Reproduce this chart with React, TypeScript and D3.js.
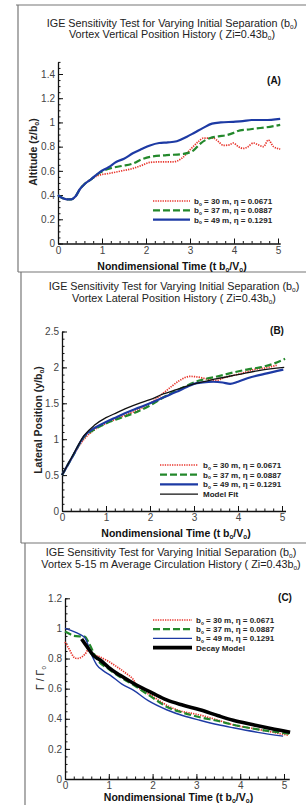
import React, { useEffect, useRef } from "react";
import * as d3 from "d3";

type Pt = [number, number];

// Panel A: vortex altitude z/b0 vs nondimensional time
const altitude30: Pt[] = [[0, 0.40], [0.1, 0.375], [0.2, 0.365], [0.3, 0.365], [0.4, 0.39], [0.5, 0.45], [0.6, 0.49], [0.75, 0.53], [0.9, 0.56], [1.18, 0.58], [1.45, 0.6], [1.7, 0.62], [1.9, 0.645], [2.09, 0.67], [2.4, 0.675], [2.62, 0.675], [2.8, 0.7], [3.03, 0.785], [3.2, 0.845], [3.3, 0.87], [3.53, 0.87], [3.65, 0.84], [3.76, 0.81], [3.9, 0.815], [3.98, 0.83], [4.1, 0.8], [4.21, 0.785], [4.32, 0.8], [4.44, 0.83], [4.55, 0.815], [4.67, 0.8], [4.78, 0.855], [4.9, 0.8], [5.05, 0.78]];
const altitude37: Pt[] = [[0, 0.40], [0.1, 0.375], [0.2, 0.365], [0.3, 0.365], [0.4, 0.39], [0.5, 0.45], [0.6, 0.49], [0.75, 0.53], [0.95, 0.585], [1.18, 0.62], [1.45, 0.64], [1.7, 0.66], [1.9, 0.695], [2.09, 0.716], [2.47, 0.73], [2.85, 0.74], [3.08, 0.77], [3.25, 0.83], [3.45, 0.87], [3.65, 0.885], [3.83, 0.895], [4.0, 0.915], [4.14, 0.935], [4.29, 0.94], [4.5, 0.95], [4.74, 0.96], [5.05, 0.98]];
const altitude49: Pt[] = [[0, 0.40], [0.1, 0.375], [0.2, 0.365], [0.3, 0.365], [0.4, 0.39], [0.5, 0.45], [0.6, 0.49], [0.75, 0.53], [0.95, 0.59], [1.15, 0.63], [1.33, 0.675], [1.5, 0.7], [1.7, 0.745], [1.9, 0.78], [2.09, 0.81], [2.3, 0.83], [2.5, 0.835], [2.7, 0.845], [2.92, 0.88], [3.1, 0.915], [3.3, 0.955], [3.5, 0.99], [3.7, 1.0], [3.98, 1.005], [4.2, 1.01], [4.4, 1.02], [4.7, 1.02], [5.05, 1.03]];

// Panel B: lateral position y/b0
const lateral30: Pt[] = [[0, 0.5], [0.25, 0.77], [0.5, 1.0], [0.71, 1.12], [1, 1.22], [1.3, 1.3], [1.62, 1.38], [2, 1.5], [2.3, 1.64], [2.5, 1.74], [2.68, 1.82], [2.91, 1.875], [3.14, 1.86], [3.35, 1.83], [3.52, 1.82], [3.7, 1.86], [3.9, 1.89], [4.1, 1.92], [4.35, 1.97], [4.6, 1.99], [4.88, 2.03]];
const lateral37: Pt[] = [[0, 0.5], [0.25, 0.77], [0.5, 1.03], [0.75, 1.14], [1, 1.22], [1.3, 1.29], [1.62, 1.36], [2, 1.47], [2.3, 1.58], [2.68, 1.7], [3.14, 1.82], [3.5, 1.87], [3.9, 1.93], [4.2, 1.97], [4.5, 2.0], [4.8, 2.05], [5.07, 2.12]];
const lateral49: Pt[] = [[0, 0.5], [0.25, 0.77], [0.5, 1.04], [0.75, 1.16], [1, 1.24], [1.25, 1.31], [1.5, 1.38], [1.75, 1.44], [2, 1.5], [2.3, 1.58], [2.6, 1.66], [2.85, 1.73], [3, 1.77], [3.2, 1.79], [3.44, 1.8], [3.65, 1.79], [3.82, 1.77], [4, 1.8], [4.27, 1.86], [4.6, 1.91], [5.03, 1.97]];
const lateralFit: Pt[] = [[0, 0.5], [0.25, 0.78], [0.5, 1.05], [0.75, 1.2], [1, 1.3], [1.25, 1.37], [1.5, 1.44], [1.75, 1.5], [2, 1.55], [2.3, 1.63], [2.6, 1.69], [3, 1.77], [3.5, 1.84], [4, 1.9], [4.5, 1.96], [5.05, 2.0]];

// Panel C: 5-15 m average circulation
const circ30: Pt[] = [[0, 0.91], [0.1, 0.86], [0.2, 0.81], [0.27, 0.8], [0.38, 0.81], [0.46, 0.83], [0.53, 0.857], [0.65, 0.83], [0.8, 0.81], [1.0, 0.78], [1.18, 0.746], [1.4, 0.7], [1.56, 0.66], [1.63, 0.625], [2, 0.55], [2.32, 0.49], [2.55, 0.46], [3.08, 0.425], [3.5, 0.39], [3.84, 0.36], [4.4, 0.33], [5.1, 0.29]];
const circ37: Pt[] = [[0, 0.98], [0.1, 0.965], [0.2, 0.95], [0.45, 0.945], [0.55, 0.9], [0.72, 0.8], [1.0, 0.73], [1.3, 0.67], [1.56, 0.625], [2, 0.54], [2.32, 0.48], [2.7, 0.44], [3.08, 0.41], [3.5, 0.385], [3.84, 0.36], [4.4, 0.33], [5.14, 0.3]];
const circ49: Pt[] = [[0, 1.0], [0.15, 0.985], [0.34, 0.96], [0.46, 0.935], [0.6, 0.83], [0.72, 0.76], [0.87, 0.72], [1.03, 0.69], [1.3, 0.63], [1.56, 0.59], [1.9, 0.52], [2.32, 0.46], [2.7, 0.42], [3.08, 0.39], [3.5, 0.36], [3.84, 0.34], [4.4, 0.31], [4.98, 0.285]];
const circModel: Pt[] = [[0.38, 0.93], [0.5, 0.88], [0.65, 0.82], [0.8, 0.79], [1, 0.74], [1.25, 0.69], [1.56, 0.636], [2, 0.57], [2.32, 0.525], [2.7, 0.49], [3.08, 0.46], [3.5, 0.42], [3.84, 0.39], [4.3, 0.36], [4.7, 0.335], [5.14, 0.31]];

// legend text pieces
const spans = ["30", "37", "49"];
const etas = ["0.0671", "0.0887", "0.1291"];

const FONT = "'Liberation Sans', Arial, sans-serif";

const lineStyles: Record<string, { stroke: string; width: number; dash: string | null }> = {
    red: { stroke: "#e8352c", width: 1.7, dash: "1.3 1.1" },
    green: { stroke: "#23882b", width: 2.2, dash: "7 3" },
    blue: { stroke: "#1d3aa4", width: 2.2, dash: null },
    blueThin: { stroke: "#1d3aa4", width: 1.4, dash: null },
    black: { stroke: "#111", width: 1.3, dash: null },
    blackThick: { stroke: "#000", width: 3.6, dash: null },
};

type Part = [string, boolean];

// write text with "o" style subscripts
const richText = (g: any, parts: Part[], x: number, y: number, size: number, opts: any = {}) => {
    const t = g.append("text")
        .attr("x", x).attr("y", y)
        .attr("font-family", FONT)
        .attr("font-size", size)
        .attr("text-anchor", opts.anchor || "middle")
        .attr("font-weight", opts.weight || "normal")
        .attr("fill", opts.fill || "#222");
    if (opts.transform) t.attr("transform", opts.transform);
    let down = false;
    parts.forEach(([s, sub]) => {
        const sp = t.append("tspan").text(s);
        if (sub && !down) { sp.attr("dy", size * 0.2).attr("font-size", size * 0.6); down = true; }
        else if (sub) sp.attr("font-size", size * 0.6);
        else if (down) { sp.attr("dy", -size * 0.2); down = false; }
    });
    return t;
};

type Series = { data: Pt[]; style: string };

type PanelCfg = {
    x0: number; x5: number; xEnd: number;
    y0: number; yRef: number; yRefPx: number; yMax: number; yStep: number; yMinor: number;
    series: Series[];
    legend: { x1: number; x2: number; tx: number; y: number; dy: number; items: { style: string; parts: Part[] }[] };
    titleX: number; titleY: number; titleDy: number; title2: Part[];
    xLabelY: number;
    yLabel: Part[]; yLabelX: number; yLabelY: number; yLabelBold: boolean;
    tag: string; tagX: number; tagY: number;
};

const drawPanel = (svg: any, c: PanelCfg) => {
    const g = svg.append("g");
    const x = d3.scaleLinear().domain([0, 5]).range([c.x0, c.x5]);
    const y = d3.scaleLinear().domain([0, c.yRef]).range([c.y0, c.yRefPx]);
    const xa = x.copy().domain([0, c.xEnd]).range([c.x0, x(c.xEnd)]);
    const ya = y.copy().domain([0, c.yMax]).range([c.y0, y(c.yMax)]);

    // titles
    richText(g, [["IGE Sensitivity Test for Varying Initial Separation (b", false], ["o", true], [")", false]], c.titleX, c.titleY, 10.8);
    richText(g, c.title2, c.titleX, c.titleY + c.titleDy, 10.8);

    // minor ticks
    g.append("g").attr("transform", `translate(0,${c.y0})`)
        .call(d3.axisBottom(xa).tickValues(d3.range(0, 5.01, 0.2)).tickSize(-2.5).tickFormat(() => ""))
        .call((s: any) => s.select(".domain").remove());
    g.append("g").attr("transform", `translate(${c.x0},0)`)
        .call(d3.axisLeft(ya).tickValues(d3.range(0, c.yMax + 1e-6, c.yMinor)).tickSize(-2.5).tickFormat(() => ""))
        .call((s: any) => s.select(".domain").remove());

    // major axes
    const xg = g.append("g").attr("transform", `translate(0,${c.y0})`)
        .call(d3.axisBottom(xa).tickValues(d3.range(0, 6)).tickSize(-5).tickSizeOuter(0).tickPadding(3).tickFormat(d3.format("d")));
    const yTicks = d3.range(0, c.yMax + 1e-6, c.yStep).filter(v => v <= c.yMax + 1e-6);
    const yg = g.append("g").attr("transform", `translate(${c.x0},0)`)
        .call(d3.axisLeft(ya).tickValues(yTicks).tickSize(-5).tickSizeOuter(0).tickPadding(3).tickFormat((d: any) => String(+(+d).toFixed(2))));
    [xg, yg].forEach(a => {
        a.select(".domain").attr("stroke", "#111").attr("stroke-width", 1.3);
        a.selectAll("text").attr("font-family", FONT).attr("font-size", 10).attr("fill", "#444");
    });
    g.selectAll(".tick line").attr("stroke", "#111");

    // curves
    const line = d3.line<Pt>().x(d => x(d[0])).y(d => y(d[1])).curve(d3.curveMonotoneX);
    c.series.forEach(s => {
        const st = lineStyles[s.style];
        g.append("path")
            .attr("d", line(s.data))
            .attr("fill", "none")
            .attr("stroke", st.stroke)
            .attr("stroke-width", st.width)
            .attr("stroke-linejoin", "round")
            .attr("stroke-dasharray", st.dash);
    });

    // legend
    c.legend.items.forEach((it, i) => {
        const st = lineStyles[it.style];
        const ly = c.legend.y + i * c.legend.dy;
        g.append("line")
            .attr("x1", c.legend.x1).attr("x2", c.legend.x2)
            .attr("y1", ly).attr("y2", ly)
            .attr("stroke", st.stroke)
            .attr("stroke-width", st.width)
            .attr("stroke-dasharray", st.dash);
        richText(g, it.parts, c.legend.tx, ly + 3, 8, { anchor: "start", weight: "bold" });
    });

    // axis labels and tag
    richText(g, [["Nondimensional Time (t b", false], ["o", true], ["/V", false], ["o", true], [")", false]],
        (c.x0 + c.x5) / 2 + 4, c.xLabelY, 10.5, { weight: "bold", fill: "#111" });
    richText(g, c.yLabel, 0, 0, 10.5, {
        weight: c.yLabelBold ? "bold" : "normal", fill: "#222",
        transform: `translate(${c.yLabelX},${c.yLabelY}) rotate(-90)`,
    });
    g.append("text").attr("x", c.tagX).attr("y", c.tagY)
        .attr("font-family", FONT).attr("font-size", 10).attr("font-weight", "bold")
        .attr("text-anchor", "middle").attr("fill", "#111").text(c.tag);
};

const legendParts = (i: number): Part[] => [["b", false], ["o", true], [` = ${spans[i]} m, \u03b7 = ${etas[i]}`, false]];

const panels: PanelCfg[] = [
    {
        x0: 58, x5: 278, xEnd: 5.05,
        y0: 243.5, yRef: 1.4, yRefPx: 74, yMax: 1.5, yStep: 0.2, yMinor: 0.05,
        series: [{ data: altitude30, style: "red" }, { data: altitude37, style: "green" }, { data: altitude49, style: "blue" }],
        legend: { x1: 153, x2: 190, tx: 194, y: 201, dy: 9.3, items: [0, 1, 2].map(i => ({ style: ["red", "green", "blue"][i], parts: legendParts(i) })) },
        titleX: 172, titleY: 27, titleDy: 11,
        title2: [["Vortex Vertical Position History ( Zi=0.43b", false], ["o", true], [")", false]],
        xLabelY: 270,
        yLabel: [["Altitude (z/b", false], ["o", true], [")", false]], yLabelX: 37, yLabelY: 152, yLabelBold: true,
        tag: "(A)", tagX: 274, tagY: 84,
    },
    {
        x0: 62, x5: 282, xEnd: 5.08,
        y0: 511, yRef: 2.5, yRefPx: 331.5, yMax: 2.5, yStep: 0.5, yMinor: 0.1,
        series: [{ data: lateral30, style: "red" }, { data: lateral37, style: "green" }, { data: lateral49, style: "blue" }, { data: lateralFit, style: "black" }],
        legend: {
            x1: 160, x2: 198, tx: 203, y: 465, dy: 9.7,
            items: [...[0, 1, 2].map(i => ({ style: ["red", "green", "blue"][i], parts: legendParts(i) })), { style: "black", parts: [["Model Fit", false]] as Part[] }],
        },
        titleX: 174, titleY: 290, titleDy: 12,
        title2: [["Vortex Lateral Position History ( Zi=0.43b", false], ["o", true], [")", false]],
        xLabelY: 537,
        yLabel: [["Lateral Position (y/b", false], ["o", true], [")", false]], yLabelX: 42, yLabelY: 420, yLabelBold: true,
        tag: "(B)", tagX: 277, tagY: 334,
    },
    {
        x0: 65, x5: 284, xEnd: 5.12,
        y0: 779, yRef: 1.2, yRefPx: 598.3, yMax: 1.2, yStep: 0.2, yMinor: 0.05,
        series: [{ data: circ30, style: "red" }, { data: circ37, style: "green" }, { data: circ49, style: "blueThin" }, { data: circModel, style: "blackThick" }],
        legend: {
            x1: 153, x2: 192, tx: 196, y: 620, dy: 9.2,
            items: [...[0, 1, 2].map(i => ({ style: ["red", "green", "blueThin"][i], parts: legendParts(i) })), { style: "blackThick", parts: [["Decay Model", false]] as Part[] }],
        },
        titleX: 171, titleY: 556, titleDy: 11.8,
        title2: [["Vortex 5-15 m Average Circulation History ( Zi=0.43b", false], ["o", true], [")", false]],
        xLabelY: 801,
        yLabel: [["\u0393 / \u0393", false], ["o", true]], yLabelX: 44, yLabelY: 678, yLabelBold: false,
        tag: "(C)", tagX: 285, tagY: 601,
    },
];

const drawChart = (el: SVGSVGElement) => {
    const svg = d3.select(el);
    svg.selectAll("*").remove();

    // panel frames
    const frame = svg.append("g").attr("stroke", "#777").attr("stroke-width", 1.2).attr("fill", "none");
    frame.append("line").attr("x1", 16).attr("x2", 306).attr("y1", 5).attr("y2", 5);
    frame.append("line").attr("x1", 18).attr("x2", 18).attr("y1", 5).attr("y2", 272);
    frame.append("line").attr("x1", 18).attr("x2", 306).attr("y1", 272).attr("y2", 272);
    frame.append("line").attr("x1", 21).attr("x2", 21).attr("y1", 272).attr("y2", 543);
    frame.append("line").attr("x1", 21).attr("x2", 306).attr("y1", 543).attr("y2", 543);
    frame.append("line").attr("x1", 25).attr("x2", 25).attr("y1", 543).attr("y2", 805);

    panels.forEach(p => drawPanel(svg, p));
};

export default function App() {
    const ref = useRef<SVGSVGElement>(null);

    useEffect(() => {
        if (ref.current) drawChart(ref.current);
    }, []);

    return (
        <svg ref={ref} width={306} height={805}
            style={{ position: "absolute", left: 0, top: 0, background: "#fff" }} />
    );
}
